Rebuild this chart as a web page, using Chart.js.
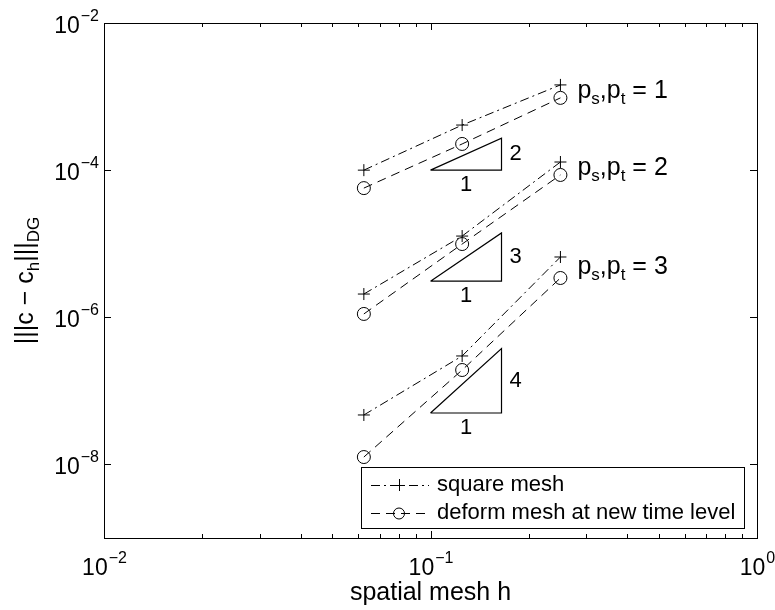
<!DOCTYPE html>
<html>
<head>
<meta charset="utf-8">
<script src="https://cdn.jsdelivr.net/npm/chart.js@4.4.1/dist/chart.umd.min.js"></script>
<style>
  html, body { margin: 0; padding: 0; background: #fff; }
</style>
</head>
<body>
<canvas id="chart" width="775" height="610"></canvas>
<script>
// mesh sizes h = 1/16, 1/8, 1/4
const meshH = [0.0625, 0.125, 0.25];

// errors, one pair of series per polynomial degree
const squareP1 = [1.0e-4, 4.1e-4, 1.44e-3];
const deformP1 = [5.7e-5, 2.27e-4, 9.6e-4];
const squareP2 = [2.07e-6, 1.27e-5, 1.29e-4];
const deformP2 = [1.11e-6, 9.9e-6, 8.6e-5];
const squareP3 = [4.7e-8, 2.98e-7, 6.6e-6];
const deformP3 = [1.26e-8, 1.92e-7, 3.42e-6];

// slope triangles: x from triX[0] to triX[1], bottom edge at triBase, top corner at triTop
const triX = [0.1, 0.165];
const triBase = [1.0e-4, 3.1e-6, 5.0e-8];
const triTop = [2.72e-4, 1.4e-5, 3.75e-7];
const triOrder = ['2', '3', '4'];
const degreeLabels = ['1', '2', '3'];

const xTicks = [0.01, 0.1, 1];
const yTicks = [1e-2, 1e-4, 1e-6, 1e-8];
const legendLabels = ['square mesh', 'deform mesh at new time level'];

const FONT = '"Liberation Sans", Arial, Helvetica, sans-serif';
const font = (px) => px + 'px ' + FONT;

const DASHDOT = [9, 4, 2, 4];
const DASHED = [9, 6];

const toPts = (ys) => ys.map((y, i) => ({ x: meshH[i], y }));

function squareSet(ys) {
  return {
    data: toPts(ys), showLine: true, borderColor: '#000', borderWidth: 1,
    borderDash: DASHDOT, pointStyle: 'cross', pointRadius: 6,
    pointBorderColor: '#000', pointBorderWidth: 1, pointBackgroundColor: 'transparent'
  };
}
function deformSet(ys) {
  return {
    data: toPts(ys), showLine: true, borderColor: '#000', borderWidth: 1,
    borderDash: DASHED, pointStyle: 'circle', pointRadius: 6.5,
    pointBorderColor: '#000', pointBorderWidth: 1, pointBackgroundColor: 'transparent'
  };
}
function triangleSet(i) {
  return {
    data: [
      { x: triX[0], y: triBase[i] }, { x: triX[1], y: triBase[i] },
      { x: triX[1], y: triTop[i] }, { x: triX[0], y: triBase[i] }
    ],
    showLine: true, borderColor: '#000', borderWidth: 1.2, pointRadius: 0, tension: 0
  };
}

// draws "10" with a superscript exponent; y is the baseline of "10"
function drawPow10(ctx, exp, x, y, align) {
  const base = '10';
  const sup = exp < 0 ? '\u2212' + (-exp) : String(exp);
  ctx.font = font(23);
  const wb = ctx.measureText(base).width;
  ctx.font = font(16);
  const ws = ctx.measureText(sup).width;
  let x0 = x;
  if (align === 'right') x0 = x - wb - ws;
  if (align === 'center') x0 = x - (wb + ws) / 2;
  ctx.textAlign = 'left';
  ctx.textBaseline = 'alphabetic';
  ctx.font = font(23);
  ctx.fillText(base, x0, y);
  ctx.font = font(16);
  ctx.fillText(sup, x0 + wb + 1, y - 12);
}

// pieces: [text, size, shift]; draws them in a row starting at x
function drawRich(ctx, pieces, x, y) {
  ctx.textAlign = 'left';
  ctx.textBaseline = 'alphabetic';
  let cx = x;
  for (const [t, size, shift] of pieces) {
    ctx.font = font(size);
    ctx.fillText(t, cx, y + shift);
    cx += ctx.measureText(t).width;
  }
  return cx - x;
}
function richWidth(ctx, pieces) {
  let w = 0;
  for (const [t, size] of pieces) { ctx.font = font(size); w += ctx.measureText(t).width; }
  return w;
}

const decorations = {
  id: 'decorations',
  afterDraw(chart) {
    const { ctx, chartArea: a, scales } = chart;
    const sx = scales.x, sy = scales.y;
    ctx.save();
    ctx.fillStyle = '#000';
    ctx.strokeStyle = '#000';
    ctx.lineWidth = 1;
    ctx.setLineDash([]);

    // box
    ctx.strokeRect(a.left + 0.5, a.top + 0.5, a.right - a.left, a.bottom - a.top);

    // x ticks (inward, top and bottom), minor ones between decades
    ctx.beginPath();
    for (let d = 0; d < xTicks.length; d++) {
      for (let m = 1; m <= 9; m++) {
        const v = xTicks[d] * m;
        if (v > xTicks[xTicks.length - 1] + 1e-9) break;
        const len = m === 1 ? 7 : 4;
        const px = Math.round(sx.getPixelForValue(v)) + 0.5;
        ctx.moveTo(px, a.bottom); ctx.lineTo(px, a.bottom - len);
        ctx.moveTo(px, a.top); ctx.lineTo(px, a.top + len);
      }
    }
    // y ticks at labelled decades
    for (const v of yTicks) {
      const py = Math.round(sy.getPixelForValue(v)) + 0.5;
      ctx.moveTo(a.left, py); ctx.lineTo(a.left + 7, py);
      ctx.moveTo(a.right, py); ctx.lineTo(a.right - 7, py);
    }
    ctx.stroke();

    // tick labels
    for (const v of xTicks) {
      drawPow10(ctx, Math.round(Math.log10(v)), sx.getPixelForValue(v), a.bottom + 37, 'center');
    }
    for (const v of yTicks) {
      drawPow10(ctx, Math.round(Math.log10(v)), a.left - 6, sy.getPixelForValue(v) + 10, 'right');
    }

    // axis titles
    ctx.font = font(25);
    ctx.textAlign = 'center';
    ctx.textBaseline = 'alphabetic';
    ctx.fillText('spatial mesh h', (a.left + a.right) / 2, a.bottom + 62);

    const yTitle = [['|||c \u2212 c', 25, 0], ['h', 17, 6], ['|||', 25, 0], ['DG', 17, 6]];
    ctx.save();
    ctx.translate(33, (a.top + a.bottom) / 2);
    ctx.rotate(-Math.PI / 2);
    drawRich(ctx, yTitle, -richWidth(ctx, yTitle) / 2, 0);
    ctx.restore();

    // slope triangle labels
    for (let i = 0; i < triOrder.length; i++) {
      const x0 = sx.getPixelForValue(triX[0]), x1 = sx.getPixelForValue(triX[1]);
      const yb = sy.getPixelForValue(triBase[i]), yt = sy.getPixelForValue(triTop[i]);
      ctx.font = font(22);
      ctx.textBaseline = 'middle';
      ctx.textAlign = 'left';
      ctx.fillText(triOrder[i], x1 + 8, (yb + yt) / 2);
      ctx.textAlign = 'center';
      ctx.fillText('1', (x0 + x1) / 2, yb + 15);
    }

    // degree labels beside the last points
    const pairs = [[squareP1, deformP1], [squareP2, deformP2], [squareP3, deformP3]];
    for (let i = 0; i < pairs.length; i++) {
      const last = meshH.length - 1;
      const xm = sx.getPixelForValue(meshH[last]);
      const ym = (sy.getPixelForValue(pairs[i][0][last]) + sy.getPixelForValue(pairs[i][1][last])) / 2;
      drawRich(ctx, [['p', 25, 0], ['s', 17, 6], [',p', 25, 0], ['t', 17, 6], [' = ' + degreeLabels[i], 25, 0]],
        xm + 17, ym + 7);
    }

    // legend
    const lx0 = 361, ly0 = 467, lx1 = a.right - 13, ly1 = a.bottom - 10;
    ctx.fillStyle = '#fff';
    ctx.fillRect(lx0, ly0, lx1 - lx0, ly1 - ly0);
    ctx.fillStyle = '#000';
    ctx.strokeRect(lx0 + 0.5, ly0 + 0.5, lx1 - lx0, ly1 - ly0);
    const rows = [{ y: ly0 + 18, dash: DASHDOT, mark: 'cross' }, { y: ly0 + 46, dash: DASHED, mark: 'circle' }];
    rows.forEach((r, i) => {
      ctx.setLineDash(r.dash);
      ctx.beginPath();
      ctx.moveTo(lx0 + 10, r.y + 0.5); ctx.lineTo(lx0 + 68, r.y + 0.5);
      ctx.stroke();
      ctx.setLineDash([]);
      const mx = lx0 + 38;
      ctx.beginPath();
      if (r.mark === 'cross') {
        ctx.moveTo(mx - 6, r.y + 0.5); ctx.lineTo(mx + 6, r.y + 0.5);
        ctx.moveTo(mx + 0.5, r.y - 6); ctx.lineTo(mx + 0.5, r.y + 6);
      } else {
        ctx.arc(mx, r.y + 0.5, 5.5, 0, Math.PI * 2);
      }
      ctx.stroke();
      ctx.font = font(22);
      ctx.textAlign = 'left';
      ctx.textBaseline = 'middle';
      ctx.fillText(legendLabels[i], lx0 + 76, r.y);
    });

    ctx.restore();
  }
};

new Chart(document.getElementById('chart'), {
  type: 'scatter',
  data: {
    datasets: [
      squareSet(squareP1), deformSet(deformP1),
      squareSet(squareP2), deformSet(deformP2),
      squareSet(squareP3), deformSet(deformP3),
      triangleSet(0), triangleSet(1), triangleSet(2)
    ]
  },
  options: {
    responsive: false,
    animation: false,
    devicePixelRatio: 1,
    layout: { padding: { left: 104, top: 23, right: 18, bottom: 72 } },
    plugins: { legend: { display: false }, tooltip: { enabled: false } },
    scales: {
      x: { type: 'logarithmic', min: 0.01, max: 1, display: false },
      y: { type: 'logarithmic', min: 1e-9, max: 1e-2, display: false }
    }
  },
  plugins: [decorations]
});
</script>
</body>
</html>
